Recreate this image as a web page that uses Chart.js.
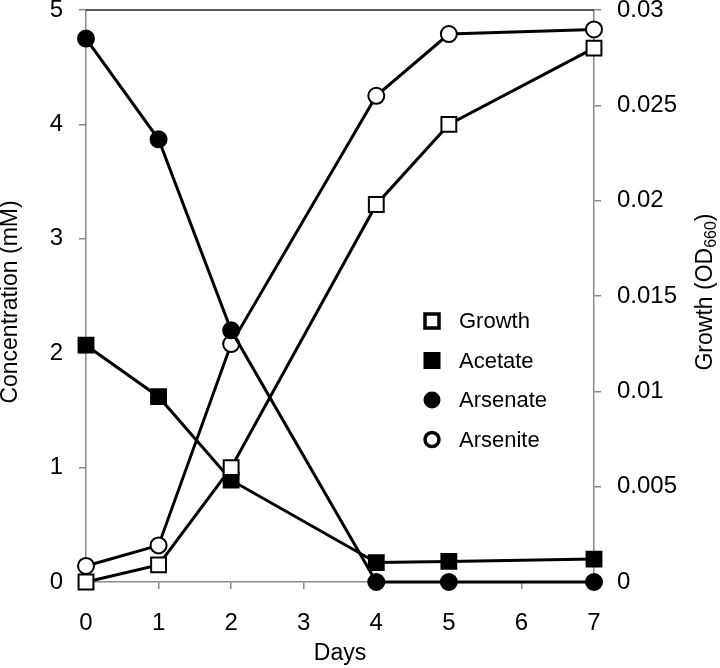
<!DOCTYPE html>
<html>
<head>
<meta charset="utf-8">
<script src="https://cdn.jsdelivr.net/npm/chart.js@4/dist/chart.umd.min.js"></script>
<style>
html,body{margin:0;padding:0;background:#fff;}
#wrap{width:720px;height:668px;position:relative;}
</style>
</head>
<body>
<div id="wrap"><canvas id="c" width="720" height="668"></canvas></div>
<script>
const days = [0, 1, 2, 4, 5, 7];
const growth = [0, 0.0009, 0.006, 0.0198, 0.024, 0.028];
const acetate = [2.07, 1.62, 0.89, 0.17, 0.18, 0.2];
const arsenate = [4.75, 3.87, 2.2, 0, 0, 0];
const arsenite = [0.14, 0.32, 2.08, 4.25, 4.79, 4.83];
const seriesNames = ['Growth', 'Acetate', 'Arsenate', 'Arsenite'];
const xTicks = [0, 1, 2, 3, 4, 5, 6, 7];
const leftTicks = [0, 1, 2, 3, 4, 5];
const rightTicks = [0, 0.005, 0.01, 0.015, 0.02, 0.025, 0.03];
const rightTickLabels = ['0', '0.005', '0.01', '0.015', '0.02', '0.025', '0.03'];
const xTitle = 'Days';
const leftTitle = 'Concentration (mM)';
const rightTitleMain = 'Growth (OD';
const rightTitleSub = '660';
const rightTitleEnd = ')';

const FONT = "'Liberation Sans', Arial, Helvetica, sans-serif";
const AXIS_GRAY = '#8a8a8a';

function pts(ys) { return days.map((d, i) => ({x: d, y: ys[i]})); }

function ds(label, data, axis, style, filled) {
  const isCircle = style === 'circle';
  return {
    label, data: pts(data), yAxisID: axis,
    borderColor: '#000', borderWidth: 3,
    pointStyle: style,
    pointRadius: isCircle ? 8 : 10.5,
    pointHoverRadius: isCircle ? 8 : 10.5,
    pointBackgroundColor: filled ? '#000' : '#fff',
    pointBorderColor: '#000',
    pointBorderWidth: 2,
    fill: false, tension: 0, clip: false,
    _filled: filled
  };
}

function noPad(s) { s.paddingTop = 0; s.paddingBottom = 0; s.paddingLeft = 0; s.paddingRight = 0; }

const frame = {
  id: 'frame',
  beforeDatasetsDraw(chart) {
    const {ctx, chartArea: a} = chart;
    ctx.save();
    ctx.strokeStyle = '#222';
    ctx.lineWidth = 1.5;
    ctx.beginPath();
    ctx.moveTo(a.left, a.top);
    ctx.lineTo(a.right, a.top);
    ctx.stroke();
    ctx.restore();
  },
  afterDraw(chart) {
    const {ctx} = chart;
    ctx.save();
    ctx.fillStyle = '#000';
    ctx.font = '23px ' + FONT;
    ctx.textAlign = 'center';
    ctx.textBaseline = 'middle';
    ctx.translate(11, 302);
    ctx.rotate(-Math.PI / 2);
    ctx.fillText(leftTitle, 0, 0);
    ctx.restore();

    ctx.save();
    ctx.fillStyle = '#000';
    ctx.translate(706, 292);
    ctx.rotate(-Math.PI / 2);
    ctx.textBaseline = 'middle';
    ctx.textAlign = 'left';
    const mainF = '23px ' + FONT, subF = '16px ' + FONT;
    ctx.font = mainF; const w1 = ctx.measureText(rightTitleMain).width;
    ctx.font = subF; const w2 = ctx.measureText(rightTitleSub).width;
    ctx.font = mainF; const w3 = ctx.measureText(rightTitleEnd).width;
    let x = -(w1 + w2 + w3) / 2;
    ctx.font = mainF; ctx.fillText(rightTitleMain, x, 0); x += w1;
    ctx.font = subF; ctx.fillText(rightTitleSub, x, 6); x += w2;
    ctx.font = mainF; ctx.fillText(rightTitleEnd, x, 0);
    ctx.restore();

    ctx.save();
    const lx = 432, ly0 = 321, step = 39.5, s = 8.5;
    chart.data.datasets.forEach((d, i) => {
      const y = ly0 + i * step;
      ctx.beginPath();
      if (d.pointStyle === 'circle') {
        ctx.arc(lx, y, d._filled ? s : s - 1.5, 0, Math.PI * 2);
      } else {
        if (d._filled) ctx.rect(lx - s, y - s, 2 * s, 2 * s);
        else ctx.rect(lx - s + 1.5, y - s + 1.5, 2 * s - 3, 2 * s - 3);
      }
      if (d._filled) { ctx.fillStyle = '#000'; ctx.fill(); }
      else { ctx.fillStyle = '#fff'; ctx.fill(); ctx.lineWidth = 3.5; ctx.strokeStyle = '#000'; ctx.stroke(); }
      ctx.fillStyle = '#000';
      ctx.font = '22px ' + FONT;
      ctx.textAlign = 'left';
      ctx.textBaseline = 'middle';
      ctx.fillText(seriesNames[i], 459, y + 1);
    });
    ctx.restore();
  }
};

new Chart(document.getElementById('c'), {
  type: 'line',
  data: {
    datasets: [
      ds(seriesNames[0], growth, 'y2', 'rect', false),
      ds(seriesNames[1], acetate, 'y', 'rect', true),
      ds(seriesNames[2], arsenate, 'y', 'circle', true),
      ds(seriesNames[3], arsenite, 'y', 'circle', false)
    ]
  },
  plugins: [frame],
  options: {
    responsive: false,
    animation: false,
    events: [],
    layout: {autoPadding: false, padding: {top: 10, left: 0, right: 0, bottom: 0}},
    plugins: {legend: {display: false}, tooltip: {enabled: false}, title: {display: false}},
    scales: {
      x: {
        type: 'linear', min: 0, max: 7,
        afterBuildTicks: s => { s.ticks = xTicks.map(v => ({value: v})); },
        afterFit: s => { s.height = 86; noPad(s); },
        grid: {drawOnChartArea: false, tickLength: 7, color: AXIS_GRAY, lineWidth: 1.5},
        border: {color: AXIS_GRAY, width: 1.5},
        ticks: {color: '#000', font: {family: FONT, size: 24}, padding: 20, maxRotation: 0, autoSkip: false},
        title: {display: true, text: xTitle, color: '#000', font: {family: FONT, size: 23}, padding: {top: 0, bottom: 1}}
      },
      y: {
        position: 'left', min: 0, max: 5,
        afterBuildTicks: s => { s.ticks = leftTicks.map(v => ({value: v})); },
        afterFit: s => { s.width = 86; noPad(s); },
        grid: {drawOnChartArea: false, tickLength: 7, color: AXIS_GRAY, lineWidth: 1.5},
        border: {color: AXIS_GRAY, width: 1.5},
        ticks: {color: '#000', font: {family: FONT, size: 24}, padding: 16, autoSkip: false}
      },
      y2: {
        position: 'right', min: 0, max: 0.03,
        afterBuildTicks: s => { s.ticks = rightTicks.map(v => ({value: v})); },
        afterFit: s => { s.width = 126; noPad(s); },
        grid: {drawOnChartArea: false, tickLength: 7, color: AXIS_GRAY, lineWidth: 1.5},
        border: {color: AXIS_GRAY, width: 1.5},
        ticks: {color: '#000', font: {family: FONT, size: 24}, padding: 16, autoSkip: false,
          callback: (v, i) => rightTickLabels[i]}
      }
    }
  }
});
</script>
</body>
</html>
